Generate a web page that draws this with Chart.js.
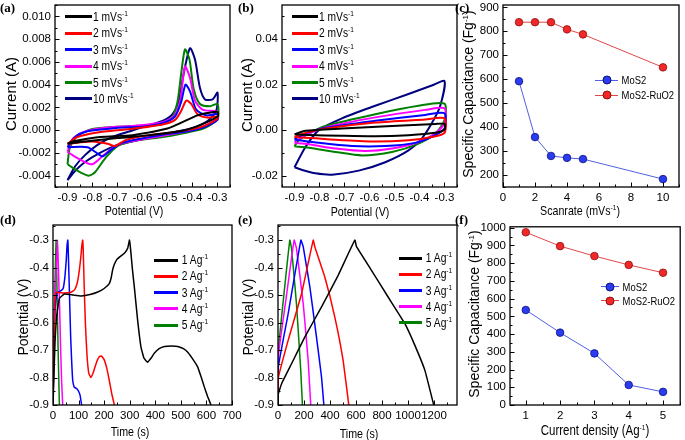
<!DOCTYPE html>
<html>
<head>
<meta charset="utf-8">
<script src="https://cdn.jsdelivr.net/npm/chart.js@4.4.0/dist/chart.umd.min.js"></script>
<style>
  body { margin: 0; background: #fff; }
  #wrap { position: relative; width: 685px; height: 440px; overflow: hidden; }
  canvas { position: absolute; }
  .t { position: absolute; font-family: 'Liberation Sans', Arial, sans-serif; font-size: 13px; color: #000; white-space: nowrap;
       transform: translate(-50%, -50%) scaleX(0.82); line-height: 1; }
  .yt { font-size: 14px; transform: translate(-50%, -50%) rotate(-90deg); }
  .pl { position: absolute; font: bold 13px 'Liberation Serif', 'Times New Roman', serif; line-height: 1; }
  .lg { position: absolute; height: 14px; display: flex; align-items: center; white-space: nowrap;
        font-family: 'Liberation Sans', Arial, sans-serif; font-size: 12px; color: #000; }
  .lg .tx { display: inline-block; transform: scaleX(0.82); transform-origin: left center; }
  .ln { display: inline-block; height: 3px; margin-right: 1px; position: relative; }
  .dot { position: absolute; width: 7px; height: 7px; border-radius: 50%; left: 50%; top: 50%; transform: translate(-50%, -50%); }
  sup { font-size: 8px; line-height: 0; vertical-align: 5px; }
</style>
</head>
<body>
<div id="wrap">
  <canvas id="ca"></canvas><canvas id="cb"></canvas><canvas id="cc"></canvas>
  <canvas id="cd"></canvas><canvas id="ce"></canvas><canvas id="cf"></canvas>
</div>
<script>
// ---------- data ----------
// scan rates (mV/s) and colours shared by the CV panels (a) and (b)
const cvRates = [1, 2, 3, 4, 5, 10];
const cvColors = ['#000000', '#ff0000', '#0000ff', '#ff00ff', '#008000', '#000080'];

// (a) CV loops of MoS2: [potential V, current A]
const cvA1 = [[-0.9,-0.0012],[-0.88,-0.001],[-0.77,-0.0006],[-0.64,-0.00044],[-0.5,0.00015],[-0.44,0.0007],[-0.38,0.0013],[-0.34,0.0015],[-0.3,0.0016],
  [-0.3,0.0012],[-0.37,0.00044],[-0.44,-0.00006],[-0.57,-0.00044],[-0.7,-0.0007],[-0.83,-0.001],[-0.9,-0.0012]];
const cvA2 = [[-0.9,-0.0012],[-0.86,-0.0006],[-0.78,-0.0002],[-0.65,0.0001],[-0.52,0.0005],[-0.47,0.0009],[-0.445,0.0017],[-0.425,0.0026],[-0.405,0.0023],[-0.38,0.0014],[-0.34,0.0011],[-0.3,0.0012],
  [-0.3,0.001],[-0.35,0.0004],[-0.42,0.0],[-0.52,-0.0003],[-0.62,-0.0006],[-0.67,-0.0009],[-0.71,-0.0014],[-0.74,-0.0012],[-0.8,-0.001],[-0.86,-0.0011],[-0.9,-0.0012]];
const cvA3 = [[-0.9,-0.0015],[-0.87,-0.0006],[-0.82,-0.0001],[-0.7,0.0002],[-0.6,0.0003],[-0.52,0.0006],[-0.47,0.0012],[-0.445,0.0025],[-0.428,0.004],[-0.41,0.0034],[-0.385,0.0018],[-0.345,0.0013],[-0.3,0.0014],
  [-0.3,0.0009],[-0.35,0.0003],[-0.42,-0.0001],[-0.52,-0.0004],[-0.62,-0.0008],[-0.69,-0.0012],[-0.73,-0.0018],[-0.76,-0.0023],[-0.79,-0.0019],[-0.82,-0.0015],[-0.9,-0.0015]];
const cvA4 = [[-0.9,-0.0019],[-0.88,-0.0008],[-0.84,-0.0002],[-0.75,0.0002],[-0.62,0.0004],[-0.52,0.0007],[-0.475,0.0012],[-0.45,0.0025],[-0.43,0.0056],[-0.41,0.0046],[-0.39,0.0026],[-0.36,0.0018],[-0.3,0.0016],
  [-0.3,0.0011],[-0.35,0.0004],[-0.42,-0.0001],[-0.52,-0.0005],[-0.62,-0.0009],[-0.7,-0.0013],[-0.75,-0.0021],[-0.8,-0.003],[-0.84,-0.0027],[-0.88,-0.0022],[-0.9,-0.0019]];
const cvA5 = [[-0.9,-0.003],[-0.89,-0.0015],[-0.86,-0.0005],[-0.8,0.0001],[-0.7,0.0003],[-0.6,0.0004],[-0.52,0.0006],[-0.48,0.0012],[-0.46,0.0025],[-0.445,0.005],[-0.43,0.0071],[-0.412,0.0062],[-0.395,0.0036],[-0.37,0.0023],[-0.33,0.0021],[-0.3,0.0023],
  [-0.3,0.001],[-0.35,0.0002],[-0.42,-0.0002],[-0.52,-0.0006],[-0.62,-0.0009],[-0.7,-0.0014],[-0.75,-0.0025],[-0.79,-0.0037],[-0.815,-0.004],[-0.85,-0.0037],[-0.88,-0.0033],[-0.9,-0.003]];
const cvA10 = [[-0.9,-0.0044],[-0.87,-0.0032],[-0.83,-0.0022],[-0.78,-0.0013],[-0.72,-0.0006],[-0.65,-0.0001],[-0.58,0.0004],[-0.52,0.0008],[-0.48,0.0014],[-0.455,0.0026],[-0.435,0.005],[-0.41,0.0072],[-0.39,0.0062],[-0.37,0.0037],[-0.35,0.0027],[-0.32,0.0027],[-0.3,0.0033],
  [-0.305,0.0017],[-0.34,0.0008],[-0.4,0.0002],[-0.5,-0.0003],[-0.6,-0.0008],[-0.7,-0.0013],[-0.77,-0.002],[-0.83,-0.0028],[-0.87,-0.0036],[-0.9,-0.0044]];

// (b) CV loops of MoS2-RuO2
const cvB1 = [[-0.9,-0.0018],[-0.856,-0.0003],[-0.71,0.0007],[-0.51,0.0018],[-0.337,0.0027],[-0.3,0.0027],
  [-0.3,0.0003],[-0.337,-0.0012],[-0.444,-0.0022],[-0.577,-0.0027],[-0.71,-0.0025],[-0.843,-0.0021],[-0.9,-0.0018]];
const cvB2 = [[-0.9,-0.003],[-0.856,-0.0012],[-0.776,0.0007],[-0.577,0.0033],[-0.377,0.0047],[-0.3,0.0052],
  [-0.3,-0.0012],[-0.351,-0.003],[-0.444,-0.0044],[-0.577,-0.005],[-0.71,-0.0044],[-0.816,-0.0036],[-0.9,-0.003]];
const cvB3 = [[-0.9,-0.0039],[-0.856,-0.0015],[-0.776,0.001],[-0.577,0.0041],[-0.377,0.0067],[-0.3,0.0074],
  [-0.3,0.0007],[-0.351,-0.003],[-0.417,-0.0056],[-0.537,-0.007],[-0.67,-0.007],[-0.803,-0.0056],[-0.9,-0.0041]];
const cvB4 = [[-0.9,-0.0052],[-0.856,-0.0022],[-0.776,0.0012],[-0.577,0.0056],[-0.377,0.0089],[-0.3,0.0096],
  [-0.3,0.003],[-0.337,-0.0015],[-0.404,-0.0052],[-0.51,-0.0081],[-0.617,-0.0092],[-0.736,-0.0081],[-0.843,-0.0062],[-0.9,-0.0056]];
const cvB5 = [[-0.9,-0.0071],[-0.883,-0.0044],[-0.843,-0.0015],[-0.776,0.0018],[-0.577,0.007],[-0.404,0.0107],[-0.3,0.0116],
  [-0.3,0.0044],[-0.337,-0.0015],[-0.404,-0.0059],[-0.51,-0.0096],[-0.63,-0.0111],[-0.736,-0.0096],[-0.843,-0.0077],[-0.9,-0.0071]];
const cvB10 = [[-0.9,-0.0163],[-0.856,-0.0074],[-0.803,0.0],[-0.71,0.0052],[-0.577,0.0107],[-0.444,0.0159],[-0.351,0.0196],[-0.3,0.0215],
  [-0.318,0.0104],[-0.351,0.003],[-0.391,-0.0037],[-0.444,-0.0089],[-0.537,-0.0141],[-0.643,-0.0178],[-0.75,-0.0196],[-0.816,-0.019],[-0.869,-0.0175],[-0.9,-0.0163]];

// (c) specific capacitance vs scan rate
const scanRate = [1, 2, 3, 4, 5, 10];
const capScanMoS2 = [591, 357, 278, 270, 265, 181];
const capScanRuO2 = [838, 838, 838, 808, 787, 649];

// current densities (A/g) and colours shared by the GCD panels (d) and (e)
const gcdCurrents = [1, 2, 3, 4, 5];
const gcdColors = ['#000000', '#ff0000', '#0000ff', '#ff00ff', '#008000'];

// (d) GCD of MoS2: [time s, potential V]
const gcdD1 = [[0,-0.9],[4,-0.78],[8,-0.67],[14,-0.58],[25,-0.512],[45,-0.496],[80,-0.5],[110,-0.503],[145,-0.498],[175,-0.489],[200,-0.476],[220,-0.458],[228,-0.435],[233,-0.409],[240,-0.388],[250,-0.37],[265,-0.358],[280,-0.347],[292,-0.33],[299,-0.3],
  [302,-0.32],[305,-0.349],[311,-0.41],[318,-0.47],[331,-0.592],[344,-0.689],[356,-0.73],[370,-0.744],[383,-0.73],[396,-0.712],[415,-0.695],[436,-0.687],[465,-0.685],[488,-0.687],[510,-0.695],[527,-0.708],[548,-0.735],[566,-0.762],[580,-0.8],[592,-0.835],[605,-0.87],[618,-0.9]];
const gcdD2 = [[0,-0.9],[3,-0.7],[7,-0.52],[12,-0.49],[40,-0.492],[70,-0.49],[85,-0.48],[95,-0.455],[103,-0.41],[109,-0.36],[113,-0.318],[116,-0.3],
  [118,-0.33],[120,-0.4],[123,-0.5],[127,-0.61],[133,-0.72],[140,-0.785],[148,-0.8],[158,-0.78],[170,-0.745],[181,-0.724],[190,-0.722],[200,-0.735],[210,-0.765],[220,-0.81],[230,-0.86],[240,-0.9]];
const gcdD3 = [[0,-0.9],[3,-0.7],[8,-0.55],[16,-0.49],[30,-0.485],[40,-0.475],[47,-0.43],[52,-0.37],[55,-0.318],[58,-0.3],
  [60,-0.35],[63,-0.45],[66,-0.55],[69,-0.65],[73,-0.74],[77,-0.81],[83,-0.835],[92,-0.84],[100,-0.85],[106,-0.865],[112,-0.9]];
const gcdD4 = [[0,-0.9],[4,-0.65],[8,-0.5],[13,-0.4],[18,-0.3],[21,-0.4],[26,-0.55],[30,-0.7],[34,-0.82],[38,-0.9]];
const gcdD5 = [[0,-0.9],[4,-0.65],[8,-0.45],[12,-0.3],[16,-0.5],[20,-0.7],[25,-0.9]];

// (e) GCD of MoS2-RuO2
const gcdE1 = [[0,-0.9],[2,-0.86],[30,-0.82],[104,-0.75],[206,-0.653],[335,-0.543],[463,-0.428],[591,-0.3],
  [604,-0.324],[719,-0.41],[847,-0.507],[976,-0.604],[1053,-0.683],[1130,-0.774],[1199,-0.902]];
const gcdE2 = [[0,-0.9],[3,-0.8],[78,-0.665],[181,-0.495],[271,-0.3],[283,-0.324],[360,-0.434],[437,-0.58],[501,-0.738],[545,-0.902]];
const gcdE3 = [[0,-0.9],[3,-0.76],[78,-0.568],[176,-0.3],[194,-0.324],[245,-0.47],[296,-0.653],[335,-0.799],[353,-0.902]];
const gcdE4 = [[0,-0.9],[3,-0.72],[60,-0.52],[124,-0.3],[142,-0.33],[194,-0.531],[232,-0.738],[252,-0.902]];
const gcdE5 = [[0,-0.9],[3,-0.7],[45,-0.5],[91,-0.3],[104,-0.33],[142,-0.531],[175,-0.774],[188,-0.902]];

// (f) specific capacitance vs current density
const currentDensity = [1, 2, 3, 4, 5];
const capCurMoS2 = [536, 408, 291, 113, 74];
const capCurRuO2 = [974, 896, 840, 790, 746];

// tick values
const cvTicksX = [-0.9, -0.8, -0.7, -0.6, -0.5, -0.4, -0.3];
const aTicksY = [-0.004, -0.002, 0, 0.002, 0.004, 0.006, 0.008, 0.01];
const bTicksY = [-0.02, 0, 0.02, 0.04];
const cTicksX = [0, 2, 4, 6, 8, 10];
const capTicksC = [200, 300, 400, 500, 600, 700, 800, 900];
const dTicksX = [0, 100, 200, 300, 400, 500, 600, 700];
const eTicksX = [0, 200, 400, 600, 800, 1000, 1200];
const gcdTicksY = [-0.9, -0.8, -0.7, -0.6, -0.5, -0.4, -0.3];
const fTicksX = [1, 2, 3, 4, 5];
const capTicksF = [0, 100, 200, 300, 400, 500, 600, 700, 800, 900, 1000];

// ---------- drawing ----------
const wrap = document.getElementById('wrap');
const tickFont = { family: "'Liberation Sans', Arial, sans-serif", size: 11.5 };

// box frame plus inward major/minor ticks on the bottom and left axes
const frame = {
  id: 'frame',
  afterDraw(chart) {
    const { ctx, chartArea: a, scales } = chart;
    ctx.save();
    ctx.strokeStyle = '#000';
    ctx.lineWidth = 1;
    [scales.x, scales.y].forEach(s => {
      const vals = s.ticks.map(t => t.value);
      const step = vals[1] - vals[0];
      for (let k = -1; k < vals.length; k++) {
        for (const half of [0, 0.5]) {
          const v = vals[0] + (k + half) * step;
          if (v < s.min - 1e-9 || v > s.max + 1e-9) continue;
          const len = half ? 2.5 : 4.5;
          const p = Math.round(s.getPixelForValue(v)) + 0.5;
          ctx.beginPath();
          if (s.axis === 'x') { ctx.moveTo(p, a.bottom); ctx.lineTo(p, a.bottom - len); }
          else { ctx.moveTo(a.left, p); ctx.lineTo(a.left + len, p); }
          ctx.stroke();
        }
      }
    });
    ctx.lineWidth = 1.3;
    ctx.strokeRect(a.left, a.top, a.right - a.left, a.bottom - a.top);
    ctx.restore();
  }
};

function scale(o, fit) {
  return {
    type: 'linear', min: o.min, max: o.max,
    grid: { display: false, drawTicks: false },
    border: { display: false },
    ticks: { color: '#000', font: tickFont, padding: 4, autoSkip: false, maxRotation: 0, callback: o.fmt },
    afterBuildTicks: s => { s.ticks = o.ticks.map(v => ({ value: v })); },
    afterFit: s => { fit(s); s.paddingLeft = s.paddingRight = s.paddingTop = s.paddingBottom = 0; }
  };
}

// box = canvas [left, top, width, height]; area = plot edges in page pixels
function panel(id, box, area, datasets, xs, ys) {
  const cv = document.getElementById(id);
  cv.style.left = box[0] + 'px';
  cv.style.top = box[1] + 'px';
  cv.width = box[2];
  cv.height = box[3];
  return new Chart(cv, {
    type: 'scatter',
    data: { datasets },
    options: {
      responsive: false, animation: false, events: [],
      layout: { padding: { left: 0, bottom: 0, top: area.top - box[1], right: box[0] + box[2] - area.right } },
      plugins: { legend: { display: false }, tooltip: { enabled: false } },
      scales: {
        x: scale(xs, s => { s.height = box[1] + box[3] - area.bottom; }),
        y: scale(ys, s => { s.width = area.left - box[0]; })
      }
    },
    plugins: [frame]
  });
}

const curve = (data, color, width, tension) => ({
  data, showLine: true, borderColor: color, borderWidth: width, pointRadius: 0, tension, fill: false
});
const dots = (xs, ys, line, fillC, edge) => ({
  data: xs.map((x, i) => [x, ys[i]]), showLine: true, borderColor: line, borderWidth: 1,
  pointRadius: 3.8, pointBackgroundColor: fillC, pointBorderColor: edge, pointBorderWidth: 0.8, tension: 0
});

const f1 = v => v.toFixed(1), f2 = v => v.toFixed(2), f3 = v => v.toFixed(3), f0 = v => String(v);

panel('ca', [0, 0, 240, 222], { left: 55, right: 230, top: 5, bottom: 187 },
  [cvA1, cvA2, cvA3, cvA4, cvA5, cvA10].map((d, i) => curve(d, cvColors[i], 2, 0.25)),
  { min: -0.95, max: -0.25, ticks: cvTicksX, fmt: f1 },
  { min: -0.005, max: 0.011, ticks: aTicksY, fmt: f3 });

panel('cb', [236, 0, 228, 222], { left: 282, right: 457, top: 5, bottom: 187 },
  [cvB1, cvB2, cvB3, cvB4, cvB5, cvB10].map((d, i) => curve(d, cvColors[i], 2, 0.25)),
  { min: -0.95, max: -0.25, ticks: cvTicksX, fmt: f1 },
  { min: -0.025, max: 0.055, ticks: bTicksY, fmt: f2 });

panel('cc', [460, 0, 225, 222], { left: 503, right: 679, top: 5, bottom: 187 },
  [dots(scanRate, capScanMoS2, '#5060e0', '#2a3cf0', '#101080'),
   dots(scanRate, capScanRuO2, '#e04848', '#f02828', '#901010')],
  { min: 0, max: 11, ticks: cTicksX, fmt: f0 },
  { min: 148, max: 910, ticks: capTicksC, fmt: f0 });

panel('cd', [0, 222, 245, 218], { left: 53, right: 232, top: 225, bottom: 405 },
  [gcdD1, gcdD2, gcdD3, gcdD4, gcdD5].map((d, i) => curve(d, gcdColors[i], 1.5, 0.1)),
  { min: 0, max: 700, ticks: dTicksX, fmt: f0 },
  { min: -0.9, max: -0.245, ticks: gcdTicksY, fmt: f1 });

panel('ce', [236, 222, 228, 218], { left: 278, right: 457, top: 225, bottom: 405 },
  [gcdE1, gcdE2, gcdE3, gcdE4, gcdE5].map((d, i) => curve(d, gcdColors[i], 1.5, 0.1)),
  { min: 0, max: 1377, ticks: eTicksX, fmt: f0 },
  { min: -0.9, max: -0.245, ticks: gcdTicksY, fmt: f1 });

panel('cf', [460, 222, 225, 218], { left: 510, right: 684, top: 225, bottom: 405 },
  [dots(currentDensity, capCurMoS2, '#5060e0', '#2a3cf0', '#101080'),
   dots(currentDensity, capCurRuO2, '#e04848', '#f02828', '#901010')],
  { min: 0.54, max: 5.5, ticks: fTicksX, fmt: f0 },
  { min: 0, max: 1005, ticks: capTicksF, fmt: f0 });

// ---------- text overlays ----------
function text(cls, x, y, html, style) {
  const d = document.createElement('div');
  d.className = cls;
  d.style.left = x + 'px';
  d.style.top = y + 'px';
  if (style) d.style.cssText += style;
  d.innerHTML = html;
  wrap.appendChild(d);
}

function legend(x, y, dy, lineW, items, size, dot) {
  items.forEach((it, i) => {
    const mark = dot ? `<span class="dot" style="background:${it.fill};border:0.8px solid ${it.edge}"></span>` : '';
    text('lg', x, y + i * dy - 7,
      `<span class="ln" style="width:${lineW}px;height:${dot ? 1 : 3}px;background:${it.color}">${mark}</span><span class="tx">${it.html}</span>`,
      `font-size:${size}px`);
  });
}

const cvItems = cvRates.map((r, i) => ({ color: cvColors[i], html: `${r} mVs<sup>-1</sup>` }));
const gcdItems = gcdCurrents.map((c, i) => ({ color: gcdColors[i], html: `&nbsp;${c} Ag<sup>-1</sup>` }));
const capItems = [
  { color: '#5060e0', fill: '#2a3cf0', edge: '#101080', html: '&nbsp;MoS2' },
  { color: '#e04848', fill: '#f02828', edge: '#901010', html: '&nbsp;MoS2-RuO2' }
];

legend(65, 16.7, 16.45, 27, cvItems, 12.5);
legend(291.5, 16.7, 16.45, 26, cvItems, 12.5);
legend(595, 80, 15, 23, capItems, 11.5, true);
legend(154, 260, 16.25, 24, gcdItems, 12.5);
legend(398.5, 258.3, 16.1, 23.5, gcdItems, 12.5);
legend(601, 286.7, 14, 18, capItems, 11.5, true);

text('t yt', 10, 94, 'Current (A)', 'font-size:15px');
text('t yt', 246, 95, 'Current (A)', 'font-size:15px');
text('t yt', 468, 94, 'Specific Capacitance (Fg<sup>-1</sup>)');
text('t yt', 22.5, 317, 'Potential (V)');
text('t yt', 247.5, 317, 'Potential (V)');
text('t yt', 474, 314, 'Specific Capacitance (Fg<sup>-1</sup>)');

text('t', 134, 210, 'Potential (V)');
text('t', 360, 211, 'Potential (V)');
text('t', 580, 209.5, 'Scanrate (mVs<sup>-1</sup>)');
text('t', 130, 430.5, 'Time (s)');
text('t', 358.5, 432.5, 'Time (s)');
text('t', 595, 429.5, 'Current density (Ag<sup>-1</sup>)', 'font-size:14px');

[['(a)', 0, 1], ['(b)', 238, 1], ['(c)', 455, 1], ['(d)', 0, 213], ['(e)', 238, 213], ['(f)', 455, 213]]
  .forEach(([s, x, y]) => text('pl', x, y, s));
</script>
</body>
</html>
